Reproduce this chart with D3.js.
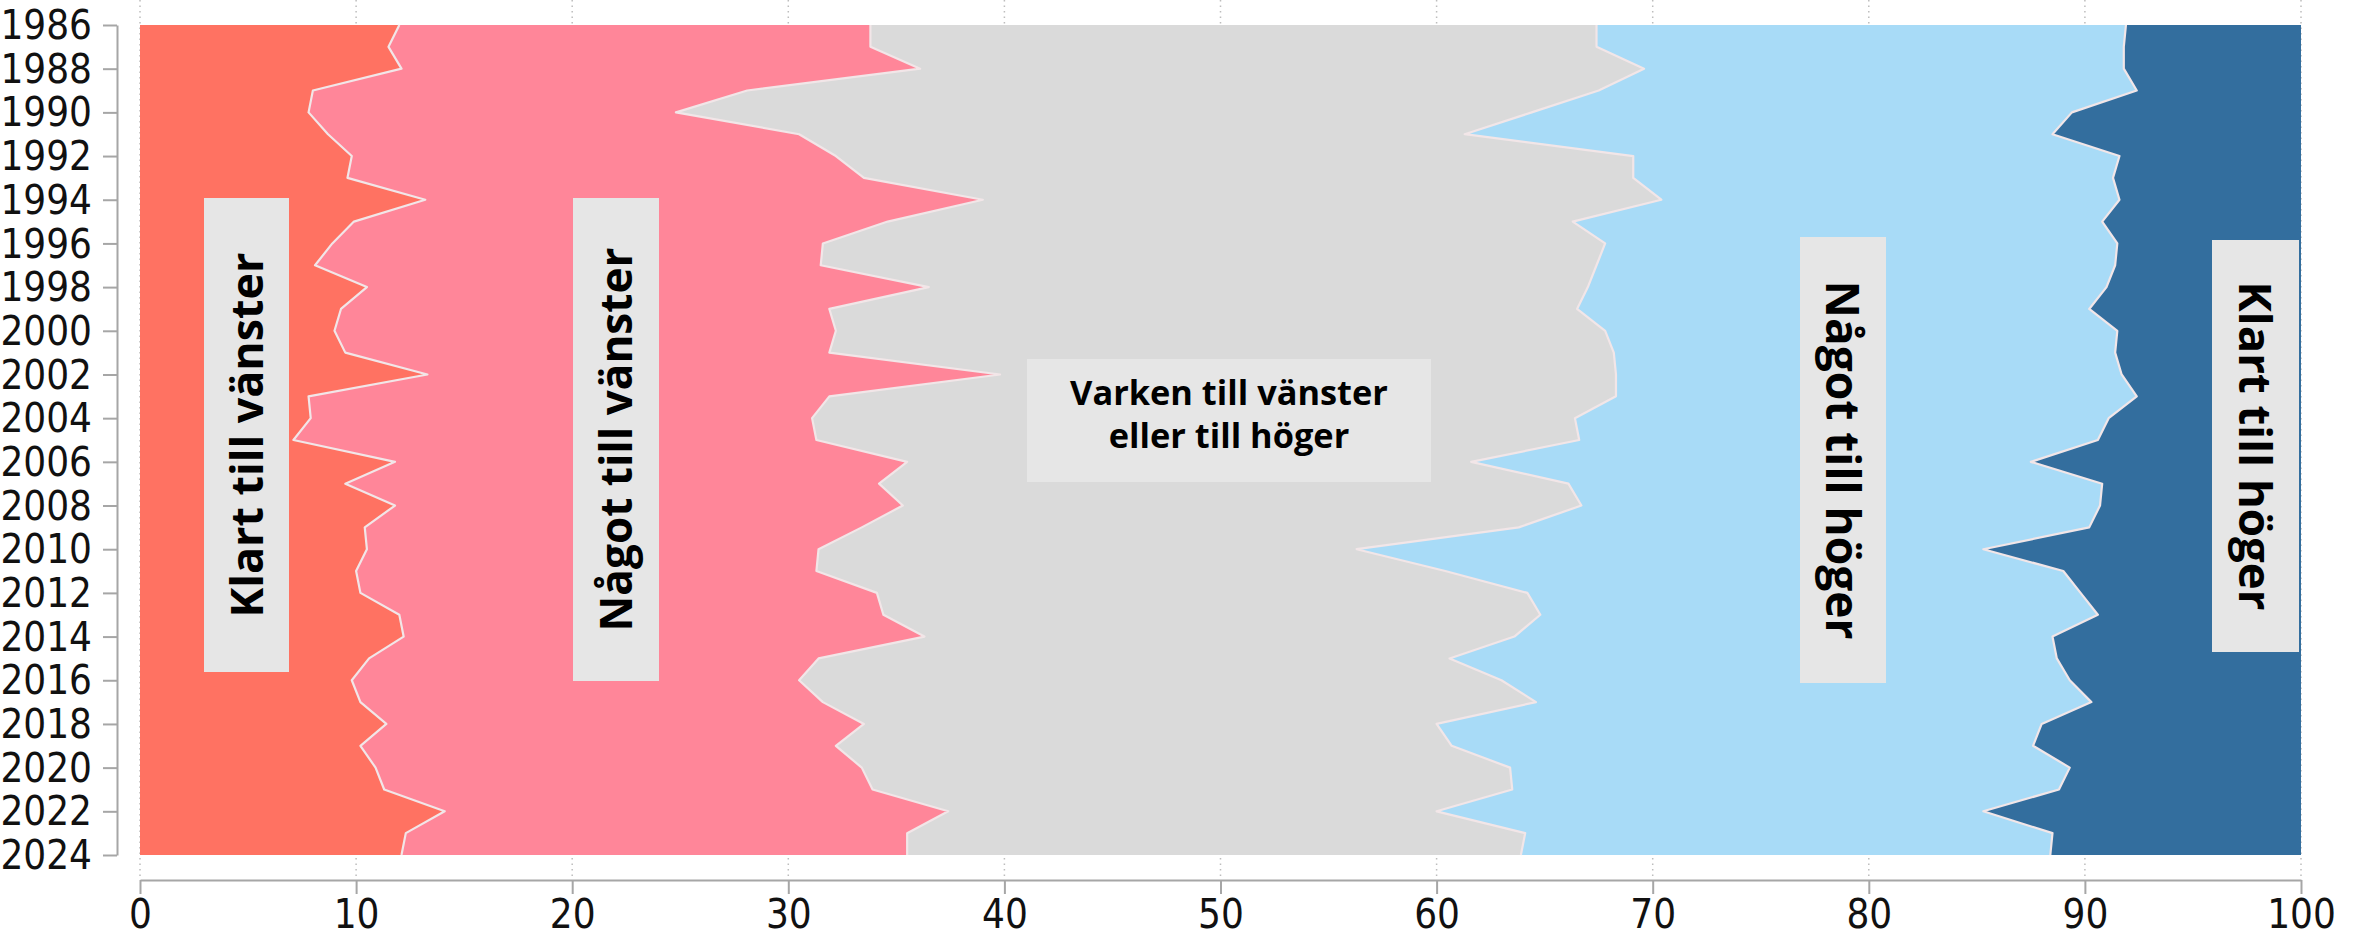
<!DOCTYPE html>
<html>
<head>
<meta charset="utf-8">
<script src="https://cdn.jsdelivr.net/npm/d3@7"></script>
<style>
  html, body { margin: 0; padding: 0; background: #ffffff; }
  svg { display: block; }
  .tick-label { font-family: "Liberation Sans Narrow", "DejaVu Sans Condensed", "Roboto Condensed", sans-serif; font-stretch: condensed; fill: #111; }
  .cat-label { font-family: "Open Sans", "Noto Sans", sans-serif; font-weight: 700; fill: #000; }
</style>
</head>
<body>
<svg id="chart" width="2364" height="951"></svg>
<script>
// ---------- DATA ----------
const years = [1986,1987,1988,1989,1990,1991,1992,1993,1994,1995,1996,1997,1998,1999,2000,
  2001,2002,2003,2004,2005,2006,2007,2008,2009,2010,2011,2012,2013,2014,2015,2016,2017,
  2018,2019,2020,2021,2022,2023,2024];

const seriesNames = ["Klart till vänster", "Något till vänster", "Varken till vänster eller till höger", "Något till höger", "Klart till höger"];

const klartVanster = [12.0,11.5,12.1,8.0,7.8,8.7,9.8,9.6,13.2,9.9,8.9,8.1,10.5,9.3,9.0,
  9.5,13.3,7.8,7.9,7.1,11.8,9.5,11.8,10.4,10.5,10.0,10.2,12.0,12.2,10.6,9.8,10.2,
  11.4,10.2,10.9,11.3,14.1,12.3,12.1];

const nagotVanster = [21.8,22.3,24.0,20.1,17.0,21.8,22.4,23.9,25.8,24.7,22.7,23.4,26.0,22.6,23.2,
  22.4,26.5,24.1,23.2,24.2,23.7,24.7,23.5,23.0,20.9,21.3,23.9,22.4,24.1,20.8,20.7,21.4,
  22.1,22.0,22.5,22.6,23.3,23.2,23.4];

const varken = [33.6,33.6,33.5,39.4,39.6,30.8,36.9,35.6,31.4,31.7,36.2,35.9,30.5,34.6,35.6,
  36.3,28.5,36.4,35.3,35.3,26.1,31.9,31.4,30.4,24.9,29.1,30.1,30.4,27.3,29.2,32.5,33.0,
  26.5,28.5,30.0,29.6,22.6,28.6,28.4];

const nagotHoger = [24.5,24.4,22.2,24.9,25.0,27.2,22.5,22.2,21.2,24.5,23.7,24.0,24.0,23.7,23.7,
  23.2,23.4,24.1,24.7,24.0,25.9,24.7,24.0,26.4,29.0,28.6,25.6,25.8,24.9,28.1,26.3,25.7,
  28.0,26.9,25.9,25.3,25.3,24.4,24.5];

const klartHoger = [8.1,8.2,8.2,7.6,10.6,11.5,8.4,8.7,8.4,9.2,8.5,8.6,9.0,9.8,8.5,
  8.6,8.3,7.6,8.9,9.4,12.5,9.2,9.3,9.8,14.7,11.0,10.2,9.4,11.5,11.3,10.7,9.7,
  12.0,12.4,10.7,11.2,14.7,11.5,11.6];

const yearTicks = [1986,1988,1990,1992,1994,1996,1998,2000,2002,2004,2006,2008,2010,2012,2014,2016,2018,2020,2022,2024];
const pctTicks = [0,10,20,30,40,50,60,70,80,90,100];

const colors = ["#ff7262", "#ff8699", "#dadada", "#a8dbf7", "#336e9e"];

// ---------- LAYOUT ----------
const svg = d3.select("#chart");
const plotLeft = 140, plotRight = 2301, plotTop = 25, plotBottom = 855;

const x = d3.scaleLinear().domain([0, 100]).range([plotLeft, plotRight]);
const y = d3.scaleLinear().domain([1986, 2024]).range([plotTop, plotBottom]);

// table for stacking
const keys = ["kv", "nv", "va", "nh", "kh"];
const cols = [klartVanster, nagotVanster, varken, nagotHoger, klartHoger];
const table = years.map((yr, i) => {
  const row = { year: yr };
  keys.forEach((k, j) => row[k] = cols[j][i]);
  return row;
});
const stacked = d3.stack().keys(keys)(table);

// gridlines (dotted)
svg.append("g").selectAll("line").data(pctTicks).join("line")
  .attr("x1", d => x(d)).attr("x2", d => x(d))
  .attr("y1", 0).attr("y2", 880)
  .attr("stroke", "#bdbdbd").attr("stroke-width", 1.5)
  .attr("stroke-dasharray", "1.5,4");

// areas
const area = d3.area()
  .y(d => y(d.data.year))
  .x0(d => x(d[0]))
  .x1(d => x(d[1]));

svg.append("g").selectAll("path").data(stacked).join("path")
  .attr("d", area)
  .attr("fill", (d, i) => colors[i]);

// boundary lines
const line = d3.line().y(d => y(d.data.year)).x(d => x(d[1]));
svg.append("g").selectAll("path").data(stacked.slice(0, 4)).join("path")
  .attr("d", line)
  .attr("fill", "none")
  .attr("stroke", "#f2e6e8")
  .attr("stroke-width", 2.2)
  .attr("stroke-linejoin", "round");

// y axis
const yAxis = d3.axisLeft(y).tickValues(yearTicks).tickFormat(d3.format("d")).tickSize(14).tickSizeOuter(0);
const gy = svg.append("g").attr("transform", "translate(117,0)").call(yAxis);
gy.select(".domain").attr("stroke", "#a6a6a6").attr("stroke-width", 2);
gy.selectAll(".tick line").attr("stroke", "#a6a6a6").attr("stroke-width", 2);
gy.selectAll(".tick text").attr("class", "tick-label").attr("x", -25).attr("dy", "0.34em")
  .style("font-size", "40px").attr("fill", "#111");

// x axis
const xAxis = d3.axisBottom(x).tickValues(pctTicks).tickFormat(d3.format("d")).tickSize(14).tickSizeOuter(0);
const gx = svg.append("g").attr("transform", "translate(0,880)").call(xAxis);
gx.select(".domain").attr("stroke", "#a6a6a6").attr("stroke-width", 2);
gx.selectAll(".tick line").attr("stroke", "#a6a6a6").attr("stroke-width", 2);
gx.selectAll(".tick text").attr("class", "tick-label").attr("y", 20).attr("dy", "0.71em")
  .style("font-size", "40px").attr("fill", "#111");

// ---------- CATEGORY LABELS ----------
function fitText(t, target) {
  const len = t.node().getComputedTextLength();
  const fs = parseFloat(t.style("font-size"));
  t.style("font-size", (fs * target / len) + "px");
}

const boxes = [
  { text: seriesNames[0], x0: 204, x1: 289, y0: 198, y1: 672, rot: -90, len: 365 },
  { text: seriesNames[1], x0: 573, x1: 659, y0: 198, y1: 681, rot: -90, len: 384 },
  { text: seriesNames[3], x0: 1800, x1: 1886, y0: 237, y1: 683, rot: 90, len: 359 },
  { text: seriesNames[4], x0: 2212, x1: 2299, y0: 240, y1: 652, rot: 90, len: 329 }
];

const lg = svg.append("g");
boxes.forEach(b => {
  lg.append("rect").attr("x", b.x0).attr("y", b.y0).attr("width", b.x1 - b.x0).attr("height", b.y1 - b.y0)
    .attr("fill", "#e6e6e6");
  const cx = (b.x0 + b.x1) / 2, cy = (b.y0 + b.y1) / 2;
  const t = lg.append("text").attr("class", "cat-label")
    .attr("transform", `translate(${cx},${cy}) rotate(${b.rot})`)
    .attr("text-anchor", "middle").attr("dy", "0.36em")
    .style("font-size", "44px").text(b.text);
  fitText(t, b.len);
});

// middle label (two lines)
lg.append("rect").attr("x", 1027).attr("y", 359).attr("width", 404).attr("height", 123).attr("fill", "#e6e6e6");
const mid = lg.append("text").attr("class", "cat-label").attr("text-anchor", "middle").style("font-size", "34px");
mid.append("tspan").attr("x", 1229).attr("y", 405).text("Varken till vänster");
const t1 = mid.select("tspan");
const l1 = t1.node().getComputedTextLength();
const fsMid = 34 * 318 / l1;
mid.style("font-size", fsMid + "px");
mid.append("tspan").attr("x", 1229).attr("y", 448).text("eller till höger");
</script>
</body>
</html>
